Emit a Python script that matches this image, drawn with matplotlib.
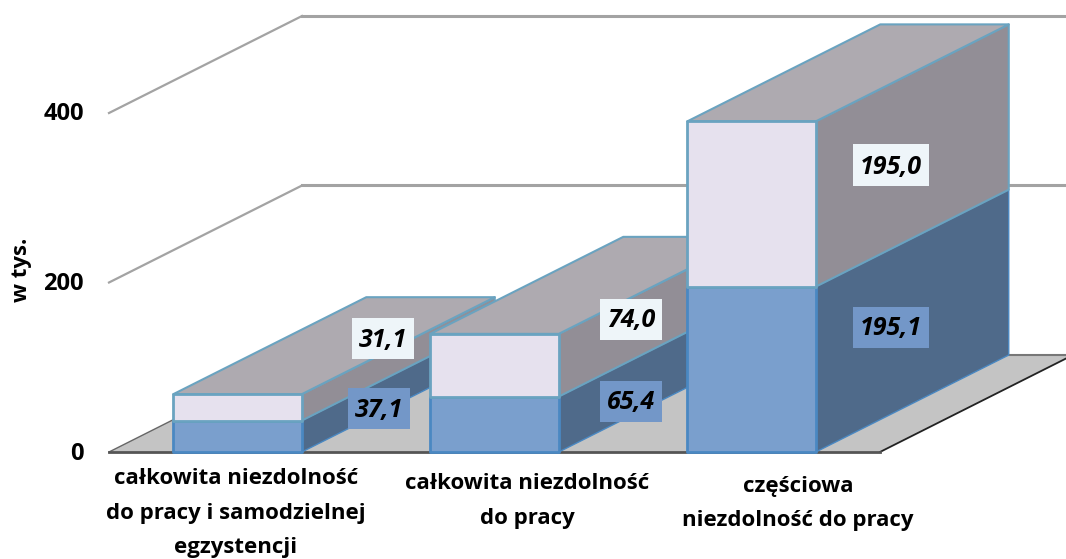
import matplotlib
matplotlib.use("Agg")
import matplotlib.pyplot as plt
from matplotlib.patches import Rectangle

W, H = 1066, 559

# dane
kategorie = ["całkowita niezdolność\ndo pracy i samodzielnej\negzystencji",
             "całkowita niezdolność\ndo pracy",
             "częściowa\nniezdolność do pracy"]
dolne = [37.1, 65.4, 195.1]
gorne = [31.1, 74.0, 195.0]
etykiety_dolne = ["37,1", "65,4", "195,1"]
etykiety_gorne = ["31,1", "74,0", "195,0"]
yticks = [0, 200, 400]
ylabel = "w tys."

# skala osi (piksele)
PX_X = 257.0      # szerokosc kategorii
PX_Y = 0.8475     # piksele na 1 tys.
X0, Y0 = 109, 452
DX = 193 / PX_X   # przesuniecie glebi
DY = 97 / PX_Y
SZER = 0.5

C_FRONT_D = "#7a9fcd"
C_FRONT_G = "#e6e1ee"
C_BOK_D = "#4f6a8a"
C_BOK_G = "#928e96"
C_GORA = "#aeaab0"
C_EDGE_G = "#6aa3c0"
C_EDGE_D = "#4a88c2"
C_PODLOGA = "#c4c4c4"
C_SIATKA = "#a3a3a3"

plt.rcParams['font.family'] = ['Open Sans', 'DejaVu Sans']

fig = plt.figure(figsize=(W / 100, H / 100), dpi=100)
ax = fig.add_axes([0, 0, 1, 1])
ax.set_xlim(-X0 / PX_X, (W - X0) / PX_X)
ax.set_ylim(-(H - Y0) / PX_Y, Y0 / PX_Y)
ax.axis("off")


def rzut(x, v, z):
    # rzut ukosny: z=0 przod, z=1 tyl
    return x + DX * z, v + DY * z


def sciana(punkty, kolor, edge=None, lw=1.5, zorder=3):
    xy = [rzut(*p) for p in punkty]
    ax.fill([p[0] for p in xy], [p[1] for p in xy], facecolor=kolor,
            edgecolor=edge if edge else kolor, linewidth=lw, joinstyle="round",
            zorder=zorder)


# podloga
n = len(kategorie)
sciana([(0, 0, 0), (n, 0, 0), (n, 0, 1), (0, 0, 1)], C_PODLOGA, lw=0, zorder=1)
ax.plot(*zip(rzut(0, 0, 0), rzut(0, 0, 0.33)), color="#666666", lw=1, zorder=2)
ax.plot(*zip(rzut(n, 0, 0), rzut(n, 0, 1)), color="#222222", lw=1.3, zorder=2)
ax.plot(*zip(rzut(0, 0, 1), rzut(n, 0, 1)), color="#777777", lw=1.5, zorder=2)
ax.plot(*zip(rzut(0, 0, 0), rzut(n, 0, 0)), color="#555555", lw=2, zorder=2)

# siatka
for t in yticks[1:]:
    ax.plot(*zip(rzut(0, t, 0), rzut(0, t, 1)), color=C_SIATKA, lw=1.6, zorder=2)
    ax.plot(*zip(rzut(0, t, 1), rzut(n, t, 1)), color=C_SIATKA, lw=2.2, zorder=2)

# slupki
for i in range(n):
    x1, x2 = i + 0.25, i + 0.25 + SZER
    d, g = dolne[i], dolne[i] + gorne[i]
    z = 3 + i
    sciana([(x2, 0, 0), (x2, 0, 1), (x2, d, 1), (x2, d, 0)], C_BOK_D, C_EDGE_D, 1, z)
    sciana([(x2, d, 0), (x2, d, 1), (x2, g, 1), (x2, g, 0)], C_BOK_G, C_EDGE_G, 1.5, z)
    sciana([(x1, g, 0), (x2, g, 0), (x2, g, 1), (x1, g, 1)], C_GORA, C_EDGE_G, 1.5, z)
    sciana([(x1, 0, 0), (x2, 0, 0), (x2, d, 0), (x1, d, 0)], C_FRONT_D, C_EDGE_D, 2, z)
    sciana([(x1, d, 0), (x2, d, 0), (x2, g, 0), (x1, g, 0)], C_FRONT_G, C_EDGE_G, 2, z)


def piksel(x, y):
    return x / W, 1 - y / H


def etykieta(x, y, tekst, szer, kolor):
    # pole o stalym rozmiarze w pikselach, tekst na srodku
    fig.add_artist(Rectangle(piksel(x - szer / 2, y + 20.5), szer / W, 41 / H,
                             transform=fig.transFigure, facecolor=kolor,
                             edgecolor="none", zorder=10))
    fig.text(*piksel(x, y + 2), tekst, ha="center", va="center", fontsize=18,
             fontweight="bold", fontstyle="italic", color="black", zorder=11)


# etykiety wartosci (pozycje w pikselach)
poz_dolne = [(379, 408), (631, 401), (891, 327)]
poz_gorne = [(383, 338), (631, 319), (891, 165)]
for i in range(n):
    szer = 76 if len(etykiety_dolne[i]) > 4 else 62
    etykieta(*poz_dolne[i], etykiety_dolne[i], szer, "#7397c8")
    etykieta(*poz_gorne[i], etykiety_gorne[i], szer, "#eef5f9")

# opisy osi
for t in yticks:
    ax.text((84 - X0) / PX_X, t - 1.5 / PX_Y, str(t), ha="right", va="center",
            fontsize=17, fontweight="bold", color="black", zorder=10)
fig.text(*piksel(21, 270), ylabel, rotation=90, ha="center", va="center",
         fontsize=16, fontweight="bold", color="black")

poz_kat = [(236, 513), (527, 501), (798, 503.5)]
for i in range(n):
    fig.text(*piksel(*poz_kat[i]), kategorie[i], ha="center", va="center",
             fontsize=16, fontweight="bold", color="black", linespacing=1.84)

fig.savefig("out.png", dpi=100)
